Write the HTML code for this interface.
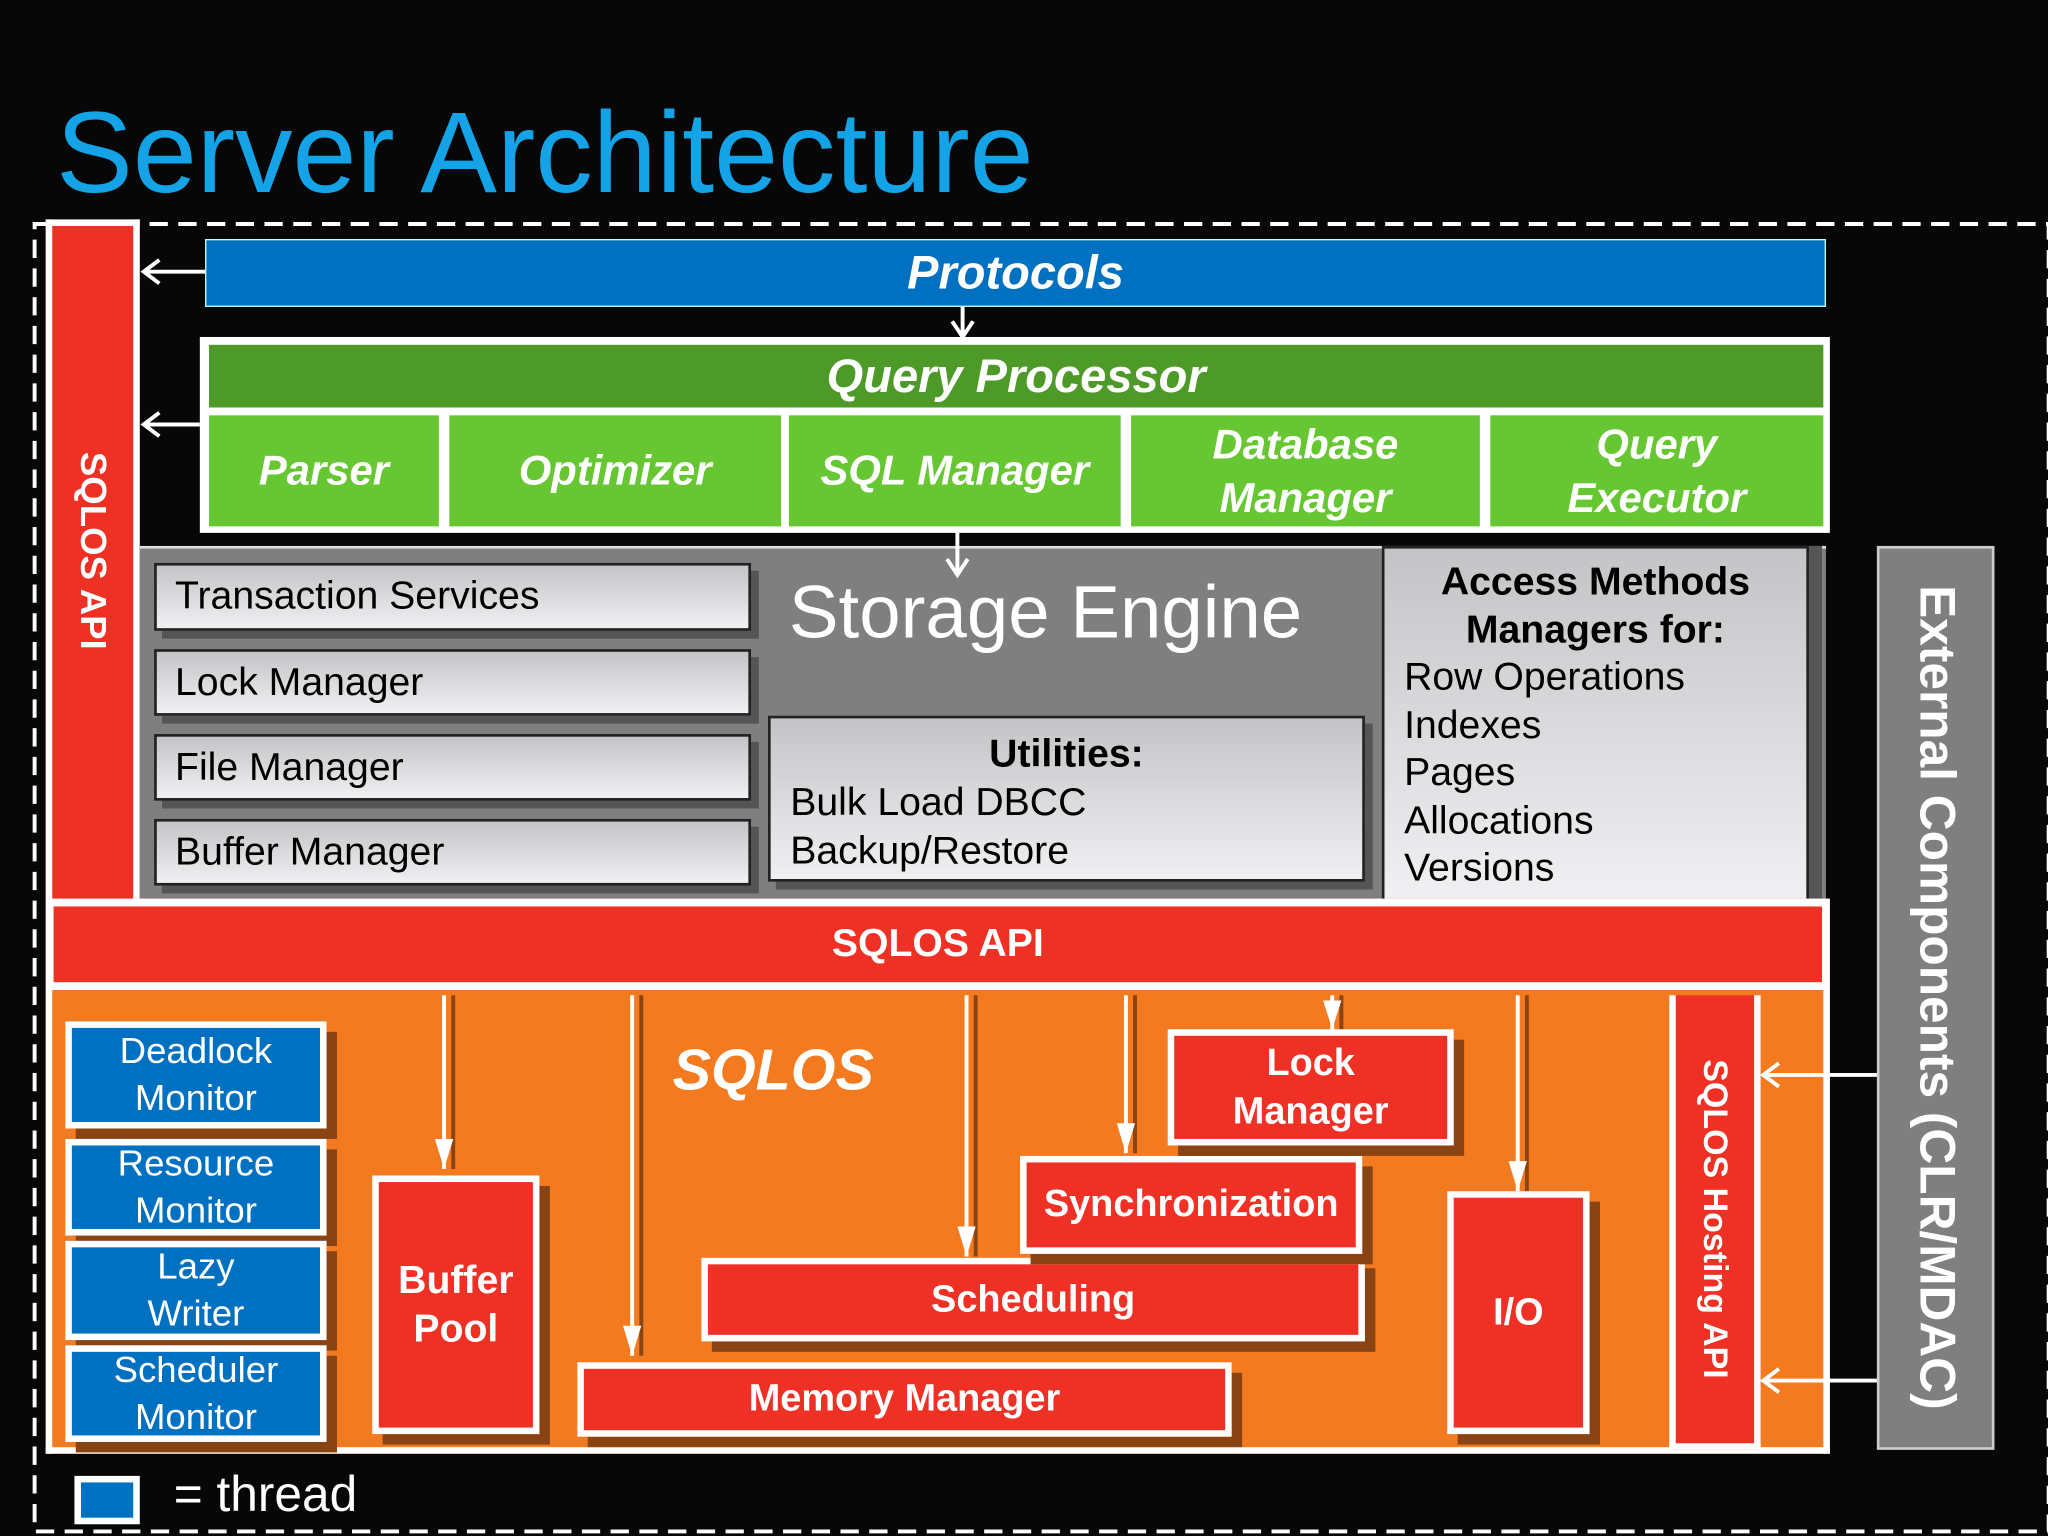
<!DOCTYPE html>
<html><head><meta charset="utf-8"><style>
html,body{margin:0;padding:0;background:#050505;}
body{width:2048px;height:1536px;overflow:hidden;position:relative;font-family:"Liberation Sans",sans-serif;}
#s{position:absolute;left:0;top:0;width:1568px;height:1176px;transform:scale(1.306122);transform-origin:0 0;background:#070707;}
.a{position:absolute;box-sizing:border-box;}
.c{display:flex;align-items:center;justify-content:center;text-align:center;color:#fff;}
.bi{font-weight:bold;font-style:italic;}
.b{font-weight:bold;}
.gbox{background:linear-gradient(#c4c4c6,#f0f0f2);border:2px solid #222;box-shadow:6px 6px 0 #555;color:#000;font-size:30px;padding-left:14px;display:flex;align-items:center;}
.red{background:#ee3124;border:5px solid #fff;box-shadow:8px 8px 0 #8a4313;color:#fff;font-weight:bold;}
.blue{background:#0070c0;border:5px solid #fff;box-shadow:8px 8px 0 #8a4313;color:#fff;font-size:28px;line-height:36px;}
.vt{writing-mode:vertical-rl;}
</style></head><body><div id="s">
<div class="a" style="left:43px;top:66px;font-size:88px;color:#14a3e6;white-space:nowrap;">Server Architecture</div>
<svg class="a" style="left:0;top:0;" width="1568" height="1176"><rect x="26.5" y="171.5" width="1542" height="1001" fill="none" stroke="#fff" stroke-width="3" stroke-dasharray="14 8"/></svg>

<div class="a c b vt" style="left:35px;top:168px;width:72px;height:522px;background:#ee3124;border:5px solid #fff;border-bottom:none;font-size:28px;padding-bottom:20px;">SQLOS API</div>

<div class="a c bi" style="left:157px;top:183px;width:1241px;height:52px;background:#0070c0;border:1px solid #cfe;font-size:36px;">Protocols</div>

<div class="a" style="left:153px;top:258px;width:1248px;height:150px;background:#fff;"></div>
<div class="a c bi" style="left:160px;top:264px;width:1236px;height:48px;background:#4e9a28;font-size:36px;">Query Processor</div>
<div class="a c bi" style="left:160px;top:318px;width:176px;height:85px;background:#66c733;font-size:32px;">Parser</div>
<div class="a c bi" style="left:344px;top:318px;width:254px;height:85px;background:#66c733;font-size:32px;">Optimizer</div>
<div class="a c bi" style="left:604px;top:318px;width:254px;height:85px;background:#66c733;font-size:32px;">SQL Manager</div>
<div class="a c bi" style="left:866px;top:318px;width:267px;height:85px;background:#66c733;font-size:32px;line-height:41px;">Database<br>Manager</div>
<div class="a c bi" style="left:1141px;top:318px;width:255px;height:85px;background:#66c733;font-size:32px;line-height:41px;">Query<br>Executor</div>

<div class="a" style="left:107px;top:418px;width:1291px;height:272px;background:#7f7f80;border-top:2px solid #ddd;"></div>
<div class="a gbox" style="left:118px;top:431px;width:457px;height:52px;">Transaction Services</div>
<div class="a gbox" style="left:118px;top:497px;width:457px;height:51px;">Lock Manager</div>
<div class="a gbox" style="left:118px;top:562px;width:457px;height:51px;">File Manager</div>
<div class="a gbox" style="left:118px;top:627px;width:457px;height:51px;">Buffer Manager</div>
<div class="a" style="left:604px;top:436px;font-size:57px;color:#fff;white-space:nowrap;">Storage Engine</div>
<div class="a" style="left:588px;top:548px;width:457px;height:127px;background:linear-gradient(#c4c4c6,#f0f0f2);border:2px solid #222;box-shadow:6px 6px 0 #555;font-size:30px;line-height:37px;padding:9px 0 0 15px;">
<div class="b" style="text-align:center;padding-right:15px;">Utilities:</div>Bulk Load DBCC<br>Backup/Restore</div>
<div class="a" style="left:1058px;top:418px;width:327px;height:272px;background:linear-gradient(#c4c4c6,#f0f0f2);border:2px solid #222;box-shadow:10px 0 0 #555;font-size:30px;line-height:36.5px;padding:8px 0 0 15px;">
<div class="b" style="text-align:center;padding-right:15px;">Access Methods<br>Managers for:</div>Row Operations<br>Indexes<br>Pages<br>Allocations<br>Versions</div>

<div class="a c b" style="left:35px;top:688px;width:1366px;height:70px;background:#ee3124;border:6px solid #fff;font-size:30px;">SQLOS API</div>

<div class="a" style="left:35px;top:758px;width:1366px;height:355px;background:#f47a20;border:5px solid #fff;border-top:none;"></div>
<div class="a c blue" style="left:50px;top:782px;width:200px;height:82px;">Deadlock<br>Monitor</div>
<div class="a c blue" style="left:50px;top:872px;width:200px;height:74px;">Resource<br>Monitor</div>
<div class="a c blue" style="left:50px;top:950px;width:200px;height:76px;">Lazy<br>Writer</div>
<div class="a c blue" style="left:50px;top:1030px;width:200px;height:74px;">Scheduler<br>Monitor</div>
<div class="a bi" style="left:515px;top:795px;font-size:44px;color:#fff;">SQLOS</div>
<div class="a c red" style="left:285px;top:900px;width:128px;height:198px;font-size:30px;line-height:37px;">Buffer<br>Pool</div>
<div class="a c red" style="left:442px;top:1043px;width:501px;height:57px;font-size:29px;">Memory Manager</div>
<div class="a c red" style="left:537px;top:963px;width:508px;height:64px;font-size:29px;">Scheduling</div>
<div class="a c red" style="left:781px;top:885px;width:262px;height:75px;font-size:29px;">Synchronization</div>
<div class="a c red" style="left:894px;top:788px;width:219px;height:89px;font-size:29px;line-height:37px;">Lock<br>Manager</div>
<div class="a c red" style="left:1108px;top:912px;width:109px;height:186px;font-size:29px;">I/O</div>
<div class="a c b vt" style="left:1278px;top:762px;width:70px;height:348px;background:#ee3124;border:5px solid #fff;border-top:none;font-size:26px;">SQLOS Hosting API</div>

<div class="a c b vt" style="left:1437px;top:418px;width:90px;height:692px;background:#7f7f80;border:2px solid #ccc;font-size:38px;">External Components (CLR/MDAC)</div>

<div class="a" style="left:57px;top:1130px;width:50px;height:37px;background:#0070c0;border:5px solid #fff;"></div>
<div class="a" style="left:133px;top:1124px;font-size:38px;color:#fff;white-space:nowrap;">= thread</div>

<svg class="a" style="left:0;top:0;" width="1568" height="1176" fill="none" stroke="#fff" stroke-width="3">
<path d="M157 208H110M122 199l-12 9 12 9"/>
<path d="M153 325H110M122 316l-12 9 12 9"/>
<path d="M737 235V258M729 246l8 12 8-12"/>
<path d="M733 408V440M725 428l8 12 8-12"/>
<path d="M1437 823H1350M1362 814l-12 9 12 9"/>
<path d="M1437 1057H1350M1362 1048l-12 9 12 9"/>
<g stroke="#8a4313"><path d="M347 762V895M491 762V1038M747 762V962M869 762V883M1027 762V788M1169 762V912"/></g>
<g><path d="M340 762V895M484 762V1038M740 762V962M862 762V883M1020 762V788M1162 762V912"/></g>
<g fill="#fff" stroke="none"><path d="M333 872h14l-7 23zM477 1015h14l-7 23zM733 939h14l-7 23zM855 860h14l-7 23zM1013 766h14l-7 22zM1155 889h14l-7 23z"/></g>
</svg>
</div></body></html>
